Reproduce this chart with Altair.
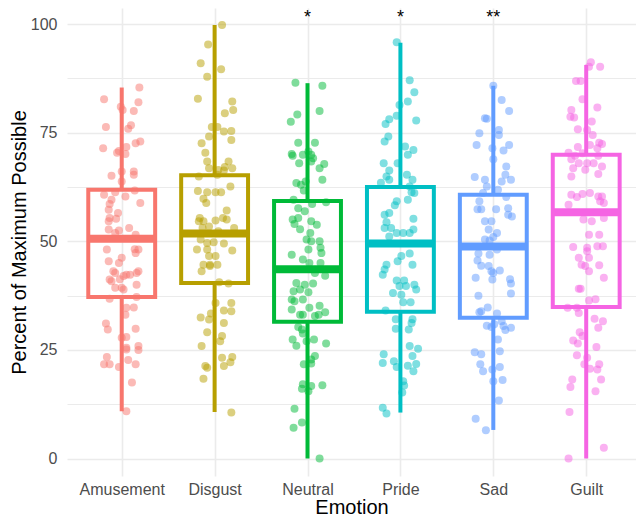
import altair as alt
import pandas as pd

FONT = "Liberation Sans"

emotions = ["Amusement", "Disgust", "Neutral", "Pride", "Sad", "Guilt"]
colors = ["#F8766D", "#B79F00", "#00BA38", "#00BFC4", "#619CFF", "#F564E3"]

# boxplot statistics
box_low = [10.9, 10.7, 0.0, 10.6, 6.6, 0.0]
box_q1 = [37.2, 40.4, 31.5, 33.8, 32.4, 34.9]
box_med = [50.6, 51.8, 43.6, 49.5, 48.8, 56.7]
box_q3 = [61.9, 65.2, 59.3, 62.5, 60.7, 69.9]
box_high = [85.4, 99.8, 86.4, 95.7, 85.8, 90.6]

# significance marks
star_emotions = ["Neutral", "Pride", "Sad"]
star_labels = ["*", "*", "**"]
star_y = [100.2, 100.2, 100.2]

# (value, horizontal jitter as fraction of category step)
amusement_pts = [
    (85.4, 0.19), (82.7, -0.19), (82.0, 0.18), (81.0, -0.01), (80.2, 0.01), (80.0, 0.13),
    (76.3, -0.17), (76.7, 0.10), (75.9, 0.07), (71.4, -0.20), (73.0, 0.20), (72.6, 0.15),
    (71.7, 0.05), (70.8, -0.03), (70.4, -0.05), (70.1, 0.04), (65.1, -0.11), (66.1, 0.0),
    (66.1, 0.13), (65.3, 0.13), (63.8, 0.0), (60.7, -0.19), (61.3, -0.07), (60.3, 0.04),
    (61.7, 0.14), (58.8, 0.20), (59.6, -0.11), (58.6, -0.13), (57.3, -0.14), (56.5, -0.04),
    (55.4, -0.13), (55.2, -0.06), (54.6, -0.14), (52.7, -0.14), (52.5, -0.03), (53.1, 0.08),
    (51.9, -0.07), (51.5, 0.15),
    (48.1, -0.16), (48.2, 0.14), (48.1, 0.18), (47.3, 0.15), (45.4, -0.14), (46.2, 0.0),
    (45.0, -0.03), (43.1, -0.09), (42.7, -0.07), (43.1, 0.18), (42.7, 0.16), (42.3, 0.05),
    (42.3, 0.09), (41.2, -0.13), (40.8, -0.11), (42.0, 0.02), (41.3, -0.02), (40.0, 0.16),
    (39.3, -0.07), (39.3, 0.0), (38.9, 0.02), (36.8, -0.13), (37.2, 0.16), (34.7, 0.05),
    (34.8, 0.13), (33.1, 0.04), (31.1, -0.17), (29.7, -0.15), (29.9, 0.15), (27.8, 0.0),
    (28.0, 0.05), (25.5, 0.05), (25.9, 0.18), (25.0, 0.18), (25.1, 0.05), (23.4, -0.16),
    (21.7, -0.19), (21.7, -0.13), (21.1, -0.03), (22.7, 0.07), (21.7, 0.15), (17.5, 0.11),
    (10.9, 0.05),
]

disgust_pts = [
    (99.8, 0.08), (95.3, -0.07), (91.0, -0.15), (89.6, 0.07), (87.9, -0.08), (82.8, -0.18),
    (82.2, 0.19), (80.2, 0.20), (79.5, 0.11), (76.3, -0.03), (76.3, 0.03), (75.3, 0.10),
    (75.4, 0.18), (74.1, -0.06), (73.3, 0.18), (72.6, -0.14), (70.4, -0.10), (68.4, -0.08),
    (68.4, 0.15), (67.1, 0.11), (66.8, -0.06), (66.4, 0.04), (66.3, 0.10), (66.8, 0.19),
    (64.9, -0.17), (65.3, 0.03), (62.6, 0.17), (61.6, -0.18), (61.3, -0.08), (61.3, 0.01),
    (61.3, 0.07), (59.8, -0.12), (58.8, -0.09), (57.1, 0.13), (55.4, -0.16), (54.6, -0.12),
    (54.8, 0.01), (55.4, 0.09), (55.0, 0.13), (54.6, -0.17), (53.1, -0.13), (53.4, -0.06),
    (53.1, 0.21), (52.3, 0.04), (50.4, -0.15), (49.6, -0.08), (49.8, -0.01), (49.5, 0.10),
    (48.1, -0.19), (48.1, -0.08), (47.9, 0.19), (46.6, -0.06), (46.6, 0.01), (44.6, -0.12),
    (44.6, -0.05), (44.6, 0.03), (43.1, -0.14), (44.3, -0.05), (40.6, 0.05), (40.3, 0.15),
    (35.8, 0.01), (35.8, 0.18), (34.1, 0.10), (33.9, 0.18), (32.5, -0.15), (32.0, -0.06),
    (33.4, -0.04), (31.2, 0.10), (29.1, -0.08), (28.2, 0.08), (27.0, 0.06), (25.9, -0.14),
    (23.2, 0.08), (23.4, 0.19), (22.2, 0.17), (21.3, 0.10), (21.3, -0.10), (20.9, -0.08),
    (18.4, -0.12), (10.6, 0.18),
]

neutral_pts = [
    (86.5, -0.13), (85.8, 0.16), (80.0, 0.13), (79.2, -0.11), (77.5, -0.18), (72.7, -0.10),
    (72.7, 0.08), (70.1, -0.17), (69.7, -0.16), (69.9, -0.05), (70.7, 0.01), (69.9, 0.04),
    (69.1, 0.06), (68.0, -0.09), (68.4, 0.04), (67.8, 0.18), (66.8, 0.13), (63.4, -0.12),
    (63.0, -0.07), (63.8, -0.02), (64.2, 0.16), (61.7, -0.04), (59.6, -0.15), (58.6, 0.05),
    (59.0, 0.20), (57.6, -0.10), (56.9, -0.03), (55.0, -0.16), (55.4, -0.10), (54.6, 0.04),
    (53.8, 0.10), (54.0, -0.14), (52.8, -0.08), (51.9, 0.03), (50.4, -0.01), (50.0, 0.04),
    (50.0, 0.13), (48.5, 0.14),
    (47.3, 0.15), (46.9, -0.17), (48.1, 0.01), (45.8, -0.05), (45.0, 0.02), (45.0, 0.14),
    (42.7, 0.08), (42.1, 0.19), (40.4, -0.12), (40.0, -0.03), (40.3, 0.06), (38.5, -0.15),
    (38.9, -0.08), (38.3, 0.01), (36.6, -0.17), (36.6, -0.05), (36.2, -0.14), (34.7, 0.02),
    (35.2, 0.13), (34.3, -0.17), (33.1, -0.08), (33.1, -0.05), (33.7, 0.19), (32.8, 0.08),
    (33.1, 0.12), (30.3, -0.10), (29.7, -0.06), (28.8, -0.05), (27.4, -0.16), (26.0, -0.12),
    (27.0, -0.01), (27.4, 0.07), (26.5, 0.20), (23.6, 0.08), (22.8, 0.04), (21.7, -0.04),
    (21.9, 0.04), (17.1, -0.05), (16.1, -0.06), (16.7, 0.04), (16.9, 0.16), (15.5, 0.01),
    (11.5, -0.14), (8.3, -0.06), (7.1, -0.15), (0.0, 0.13),
]

pride_pts = [
    (95.8, -0.04), (87.1, 0.10), (84.3, 0.15), (81.4, -0.01), (82.2, 0.08), (77.8, 0.17),
    (77.0, -0.16), (78.1, -0.12), (78.9, -0.04), (74.1, -0.13), (73.0, -0.17), (71.8, 0.05),
    (71.0, 0.14), (69.9, 0.08), (68.0, -0.03), (68.0, -0.18), (66.3, -0.12), (64.9, -0.15),
    (63.5, -0.21), (64.2, -0.12), (65.3, 0.07), (64.2, 0.13), (62.6, 0.10), (61.3, 0.12),
    (61.1, 0.15), (59.2, -0.04), (58.3, -0.06), (59.6, 0.08), (56.1, -0.17), (56.5, -0.12),
    (55.2, 0.14), (54.4, -0.15), (53.1, -0.17), (53.1, -0.10), (51.9, -0.04), (51.9, 0.03),
    (51.9, 0.10), (52.7, 0.14), (51.1, -0.12),
    (47.2, 0.10), (46.6, 0.01), (45.4, -0.03), (44.6, 0.13), (44.6, -0.15), (43.5, -0.17),
    (42.3, -0.19), (41.0, -0.04), (41.0, 0.04), (39.7, 0.06), (40.0, 0.15), (38.9, 0.17),
    (39.7, -0.01), (38.1, -0.08), (37.7, 0.01), (36.0, 0.03), (36.0, 0.11), (34.1, -0.16),
    (32.1, -0.05), (32.1, 0.13), (31.2, 0.12), (29.9, -0.05), (29.7, 0.09), (25.9, 0.10),
    (25.3, 0.19), (23.6, 0.13), (24.0, -0.18), (22.0, -0.19), (22.4, -0.07), (21.1, -0.04),
    (21.4, 0.08), (21.8, 0.17), (20.1, 0.14), (17.8, 0.03), (16.8, 0.04), (15.2, 0.02),
    (11.7, -0.19), (10.4, -0.15),
]

sad_pts = [
    (85.8, 0.0), (82.5, 0.09), (80.0, 0.17), (78.3, -0.09), (78.2, -0.07), (75.6, 0.06),
    (74.9, -0.15), (74.5, 0.06), (72.2, -0.18), (72.2, 0.17), (71.4, -0.01), (70.9, 0.11),
    (68.9, 0.0), (67.2, 0.14), (65.3, 0.13), (64.8, -0.20), (64.2, -0.09), (64.2, 0.19),
    (63.8, 0.09), (62.6, -0.07), (61.9, 0.05), (61.1, -0.11), (60.2, 0.14), (59.2, -0.15),
    (57.4, -0.17), (57.4, -0.13), (57.4, 0.03), (57.6, 0.16), (56.1, 0.16), (55.7, 0.20),
    (54.6, -0.09), (54.6, -0.02), (52.7, -0.05), (51.9, 0.04), (51.0, 0.0), (50.4, -0.09),
    (50.2, -0.04),
    (47.2, -0.16), (46.9, -0.04), (48.1, 0.04), (45.6, -0.17), (44.4, -0.13), (44.3, -0.05),
    (43.1, -0.02), (42.7, 0.0), (43.3, 0.07), (41.6, -0.19), (41.2, -0.01), (41.3, 0.18),
    (40.3, 0.19), (38.0, 0.19), (37.5, -0.16), (34.8, -0.06), (33.7, -0.15), (33.9, -0.13),
    (33.4, 0.04), (30.6, -0.07), (30.3, -0.02), (30.9, 0.01), (31.6, 0.09), (30.5, 0.11),
    (29.6, 0.13), (30.1, 0.19), (27.4, 0.05), (24.5, -0.20), (24.0, -0.13), (24.7, 0.07),
    (21.7, -0.14), (20.1, -0.11), (20.5, -0.01), (21.1, 0.07), (17.8, 0.0), (18.1, 0.10),
    (13.4, 0.06), (9.2, -0.19), (6.5, -0.08),
]

guilt_pts = [
    (91.2, 0.05), (90.2, 0.15), (90.2, 0.03), (86.9, -0.11), (86.9, -0.06), (82.7, -0.04),
    (80.8, 0.12), (80.2, -0.16), (78.7, -0.17), (78.5, -0.13), (77.6, 0.06), (75.8, -0.09),
    (75.6, 0.01), (74.5, 0.07), (72.2, 0.04), (72.7, 0.14), (72.4, 0.17), (71.4, 0.12),
    (71.7, -0.09), (70.4, -0.19), (69.7, -0.12), (70.3, -0.04), (69.7, 0.13), (68.9, -0.16),
    (68.0, -0.08), (68.0, 0.01), (68.0, 0.08), (67.2, 0.17), (66.8, -0.14), (66.5, -0.01),
    (65.5, 0.13), (64.9, -0.16), (60.7, -0.16), (60.2, -0.10), (60.9, -0.04), (61.1, 0.04),
    (60.3, 0.13), (60.3, 0.17), (58.4, -0.19), (59.2, 0.15), (58.8, 0.19), (55.0, -0.03),
    (54.6, 0.06), (55.4, 0.19), (51.5, 0.03), (51.5, 0.14), (48.7, -0.14), (48.5, 0.01),
    (48.9, 0.12), (48.9, 0.18),
    (47.7, 0.01), (46.2, -0.08), (46.2, 0.03), (44.6, -0.05), (44.3, -0.01), (43.1, 0.03),
    (44.5, 0.14), (41.6, 0.19), (39.1, -0.08), (39.1, -0.06), (36.4, 0.03), (36.7, 0.10),
    (34.7, -0.20), (34.7, -0.10), (33.5, -0.08), (32.2, 0.09), (31.6, 0.18), (30.1, 0.13),
    (29.1, -0.07), (28.2, -0.04), (27.2, -0.14), (26.5, -0.09), (25.7, 0.11), (23.8, -0.10),
    (23.2, 0.01), (21.7, -0.02), (20.7, 0.04), (21.7, 0.14), (20.5, 0.12), (18.2, -0.15),
    (18.2, 0.16), (16.5, -0.17), (15.5, 0.10), (10.7, -0.18), (2.5, 0.19), (0.0, -0.19),
]

groups = [amusement_pts, disgust_pts, neutral_pts, pride_pts, sad_pts, guilt_pts]

rows = []
for idx, (emo, pts) in enumerate(zip(emotions, groups)):
    for v, j in pts:
        rows.append({"emotion": emo, "idx": idx, "value": v, "jitter": j})
pts_df = pd.DataFrame(rows)

box_df = pd.DataFrame({
    "emotion": emotions, "idx": list(range(len(emotions))), "low": box_low,
    "q1": box_q1, "med": box_med, "q3": box_q3, "high": box_high,
})
star_df = pd.DataFrame({
    "emotion": star_emotions,
    "idx": [emotions.index(e) for e in star_emotions],
    "label": star_labels, "y": star_y,
})

label_array = "[" + ",".join("'" + e + "'" for e in emotions) + "]"

x_scale = alt.Scale(domain=[-0.589, 5.536], nice=False, zero=False)
x_axis = alt.Axis(
    title="Emotion", values=list(range(len(emotions))),
    labelExpr=label_array + "[datum.value]",
    labelAngle=0, ticks=False, tickSize=0, domain=False,
    grid=True, gridColor="#EBEBEB", gridWidth=1.6,
    labelFont=FONT, labelFontSize=16, labelColor="#4D4D4D", labelPadding=5,
    labelFlush=False, labelOverlap=False,
    titleFont=FONT, titleFontSize=20, titleFontWeight="normal",
    titleColor="#000000", titlePadding=0,
)

y_scale = alt.Scale(domain=[-4, 103.7], nice=False, zero=False)
y_axis = alt.Axis(
    title="Percent of Maximum Possible",
    values=[0, 12.5, 25, 37.5, 50, 62.5, 75, 87.5, 100],
    labelExpr="datum.value % 25 == 0 ? datum.label : ''",
    ticks=False, tickSize=0, domain=False, grid=True, gridColor="#EBEBEB",
    gridWidth={"condition": {"test": "datum.value % 25 == 0", "value": 1.6}, "value": 1.0},
    labelFont=FONT, labelFontSize=16, labelColor="#4D4D4D", labelPadding=10,
    labelFlush=False,
    titleFont=FONT, titleFontSize=20, titleFontWeight="normal",
    titleColor="#000000", titlePadding=1,
)

color_enc = alt.Color("emotion:N", scale=alt.Scale(domain=emotions, range=colors), legend=None)

points = alt.Chart(pts_df).transform_calculate(
    xpos="datum.idx + datum.jitter"
).mark_circle(size=64, opacity=0.5).encode(
    x=alt.X("xpos:Q", scale=x_scale, axis=x_axis),
    y=alt.Y("value:Q", scale=y_scale, axis=y_axis),
    color=color_enc,
)

base = alt.Chart(box_df).transform_calculate(
    x_lo="datum.idx - 0.36", x_hi="datum.idx + 0.36"
)
whisk_lo = base.mark_rule(strokeWidth=4).encode(
    x=alt.X("idx:Q"), y=alt.Y("low:Q"), y2="q1:Q", color=color_enc
)
whisk_hi = base.mark_rule(strokeWidth=4).encode(
    x=alt.X("idx:Q"), y=alt.Y("q3:Q"), y2="high:Q", color=color_enc
)
box = base.mark_rect(filled=False, strokeWidth=4).encode(
    x=alt.X("x_lo:Q"), x2="x_hi:Q", y=alt.Y("q1:Q"), y2="q3:Q", color=color_enc
)
median = base.mark_rule(strokeWidth=8).encode(
    x=alt.X("x_lo:Q"), x2="x_hi:Q", y=alt.Y("med:Q"), color=color_enc
)

stars = alt.Chart(star_df).mark_text(
    font=FONT, fontSize=18, baseline="alphabetic", align="center", color="#000000"
).encode(x=alt.X("idx:Q"), y=alt.Y("y:Q"), text="label:N")

chart = alt.layer(points, whisk_lo, whisk_hi, box, median, stars).properties(
    width=569, height=468,
    padding={"left": 59, "top": 0, "right": 0, "bottom": 40},
    autosize=alt.AutoSizeParams(type="none"),
    background="white",
).configure_view(stroke=None)

chart.save("out.html", embed_options={"renderer": "svg", "actions": False})
